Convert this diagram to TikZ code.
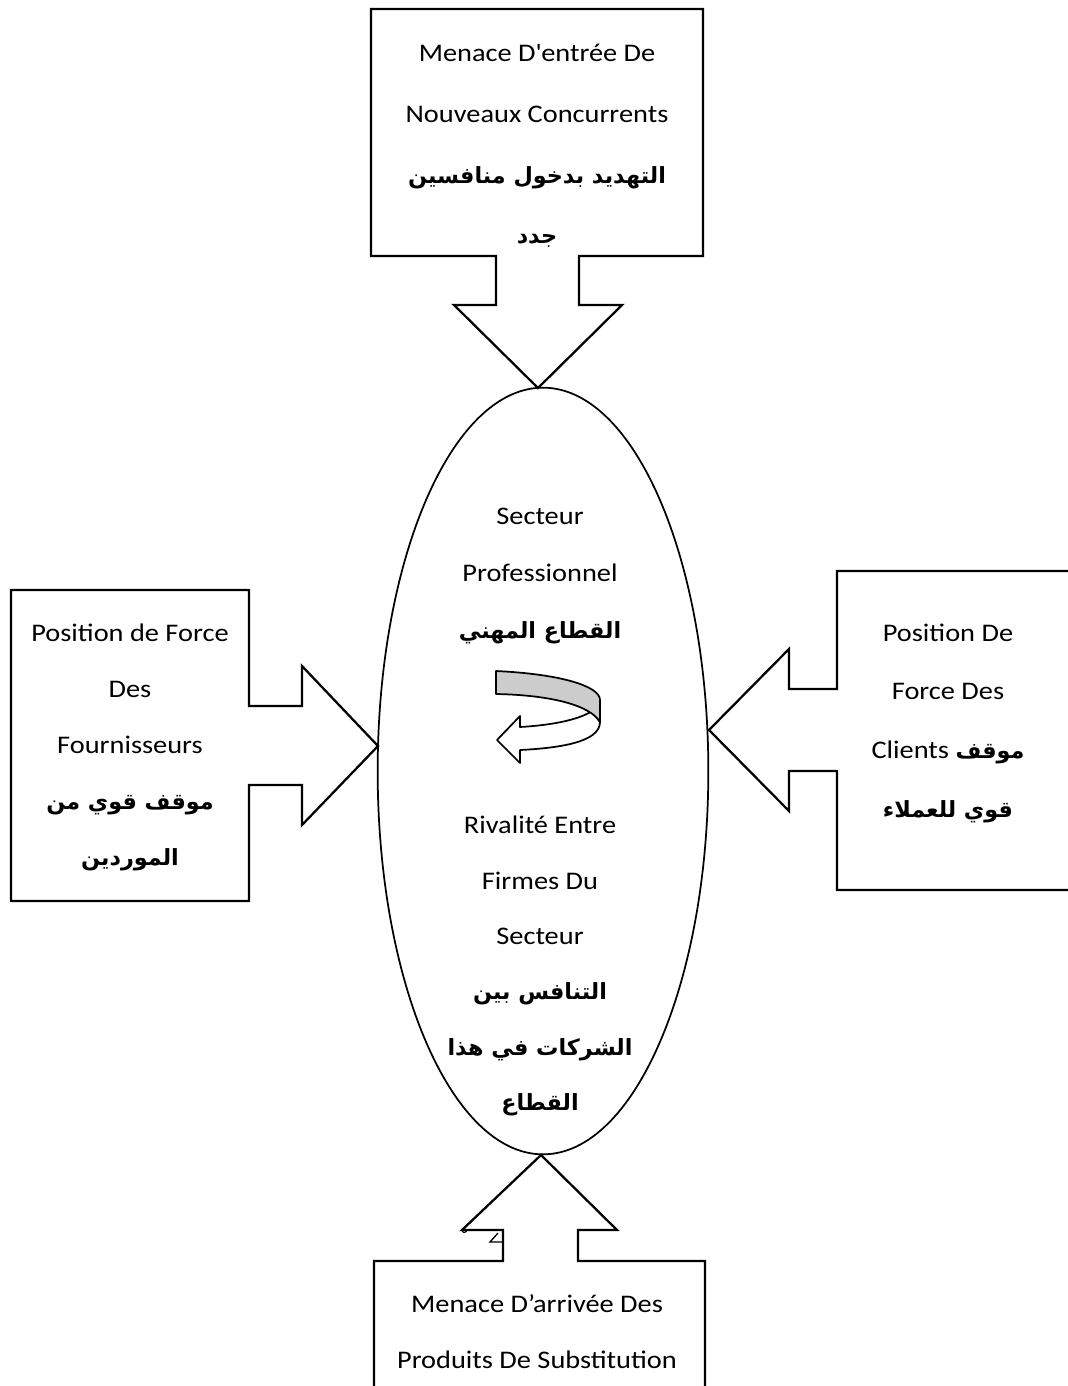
\documentclass[tikz,border=0pt]{standalone}
\usepackage{fontspec}
\usetikzlibrary{shapes.geometric}
\setmainfont{Carlito}[FakeStretch=1.12]
\newfontfamily\arfont[Script=Arabic,Scale=0.88]{DejaVu Sans}
\TeXXeTstate=1
\newcommand\arline[1]{{\arfont\bfseries\beginR #1\endR}}

\begin{document}
\begin{tikzpicture}[x=0.75pt,y=-0.75pt,
  forcebox/.style={draw=black,line width=1.7pt,line join=miter,fill=white},
  label/.style={align=center,inner sep=0pt,font=\fontsize{19}{44}\selectfont},
  ring/.style={draw=black,line width=1.3pt,line join=round}]
\useasboundingbox (0,0) rectangle (1068,1386);

% central sector
\node[ellipse,draw=black,line width=1.3pt,minimum width=248pt,minimum height=575pt,inner sep=0pt]
  (sector) at (543,771) {};

% top: new entrants, box with downward arrow
\draw[forcebox] (371,9) -- (703,9) -- (703,256) -- (579,256) -- (579,305) -- (622,305)
  -- (538,388) -- (454,305) -- (496,305) -- (496,256) -- (371,256) -- cycle;
% left: suppliers, box with arrow to the right
\draw[forcebox] (11,590) -- (249,590) -- (249,706) -- (302,706) -- (302,666) -- (378,746)
  -- (302,825) -- (302,785) -- (249,785) -- (249,901) -- (11,901) -- cycle;
% right: clients, box with arrow to the left
\draw[forcebox] (837,571) -- (1075,571) -- (1075,890) -- (837,890) -- (837,771) -- (789,771)
  -- (789,811) -- (709,730) -- (789,649) -- (789,689) -- (837,689) -- cycle;
% bottom: substitutes, box with upward arrow
\draw[forcebox] (374,1261) -- (503,1261) -- (503,1230) -- (462,1230) -- (541,1155) -- (617,1230)
  -- (578,1230) -- (578,1261) -- (705,1261) -- (705,1395) -- (374,1395) -- cycle;
% stray strokes near the bottom arrow
\draw[line width=1pt] (498,1233) -- (490,1242) -- (503,1242);
\draw[line width=0.9pt] (462,1229) arc[start angle=200,end angle=20,radius=2.5];

% rivalry loop arrow
\draw[ring,fill=white] (600,722) .. controls (600,742) and (560,748) .. (520,750) -- (520,763)
  -- (497,740) -- (520,716) -- (520,727) .. controls (555,725) and (580,719) .. (592,711) -- cycle;
\draw[ring,fill=black!20] (496,671) .. controls (560,674) and (600,686) .. (600,700) -- (600,722)
  .. controls (590,705) and (550,695) .. (496,694) -- cycle;

% texts
\node[label,font=\fontsize{19}{45.5}\selectfont] (entrants) at (537,146) {Menace D\textquotesingle entrée De\\Nouveaux Concurrents\\
  \arline{التهديد بدخول منافسين}\\\arline{جدد}};
\node[label,font=\fontsize{19}{42.5}\selectfont] (sectortop) at (540,576) {Secteur\\Professionnel\\\arline{القطاع المهني}};
\node[label,font=\fontsize{19}{41.5}\selectfont] (rivalry) at (540,966) {Rivalité Entre\\Firmes Du\\Secteur\\
  \arline{التنافس بين}\\\arline{الشركات في هذا}\\\arline{القطاع}};
\node[label,font=\fontsize{19}{42}\selectfont] (suppliers) at (130,747) {Position de Force\\Des\\Fournisseurs\\
  \arline{موقف قوي من}\\\arline{الموردين}};
\node[label] (clients) at (948,723) {Position De\\Force Des\\Clients \arline{موقف}\\\arline{قوي للعملاء}};
\node[label,font=\fontsize{19}{42}\selectfont] (substitutes) at (537,1332) {Menace D’arrivée Des\\Produits De Substitution};
\end{tikzpicture}
\end{document}
